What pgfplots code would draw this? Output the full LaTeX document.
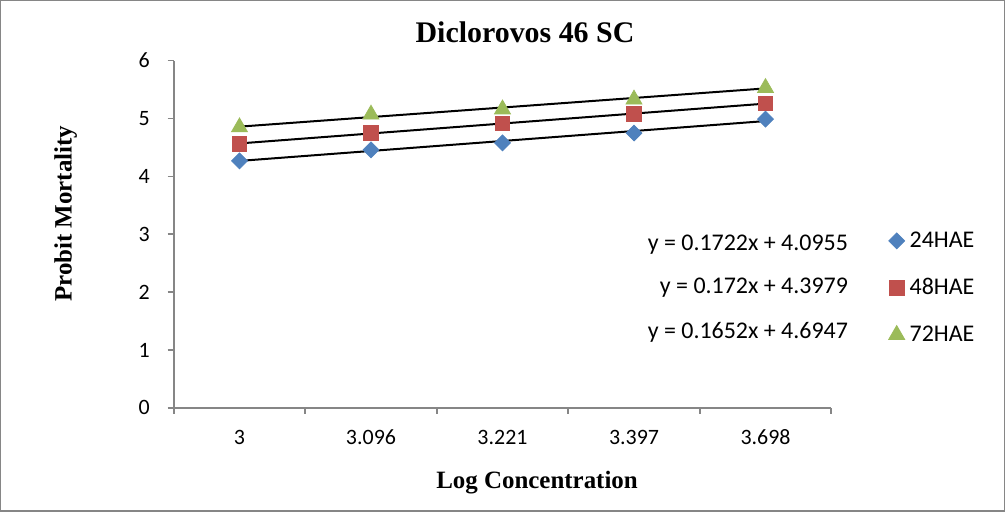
\documentclass[border=0pt]{standalone}
\usepackage{pgfplots}
\pgfplotsset{compat=1.18}
\usepackage{fontspec}
\setmainfont{Carlito}
\newfontfamily\timesfont{Liberation Serif}
\definecolor{s1}{HTML}{4F81BD}
\definecolor{s2}{HTML}{C0504D}
\definecolor{s3}{HTML}{9BBB59}
\definecolor{axgray}{HTML}{868686}
\begin{document}
\begin{tikzpicture}
\draw[axgray, line width=0.6bp] (0.5bp,0.5bp) rectangle (502bp,255.5bp);
\begin{axis}[
  at={(87bp,52bp)}, anchor=south west,
  scale only axis, width=328.5bp, height=173.5bp,
  xmin=0.5, xmax=5.5, ymin=0, ymax=6,
  axis lines*=left,
  axis line style={axgray, line width=0.8bp, -},
  xtick={0.5,1.5,...,5.5}, xticklabels={},
  extra x ticks={1,2,3,4,5},
  extra x tick labels={3,3.096,3.221,3.397,3.698},
  extra x tick style={major tick length=0pt},
  ytick={0,1,...,6},
  tick align=outside, major tick length=3bp,
  tick style={axgray, line width=0.8bp},
  /pgf/number format/assume math mode=true,
  ticklabel style={font=\fontsize{11}{13}\selectfont, text=black},
  xticklabel style={yshift=-7.5bp},
  yticklabel style={xshift=-5.5bp},
  clip=false,
  legend style={draw=none, fill=none, inner sep=0pt, at={(1.0868,0.3458)}, anchor=west,
    font=\fontsize{12}{14}\selectfont, row sep=9bp, nodes={inner sep=2.5bp}},
  legend cell align=left,
  legend image code/.code={\draw[mark repeat=2,mark phase=2,#1] plot coordinates {(0bp,0bp)(4bp,0bp)(8bp,0bp)};},
]
\addplot[only marks, mark=square*, mark size=2.8bp, mark options={rotate=45, fill=s1, draw=s1}]
  coordinates {(1,4.27)(2,4.46)(3,4.58)(4,4.75)(5,4.99)};
\addlegendentry{24HAE}
\addplot[only marks, mark=square*, mark size=3.6bp, mark options={fill=s2, draw=s2}]
  coordinates {(1,4.56)(2,4.75)(3,4.92)(4,5.08)(5,5.26)};
\addlegendentry{48HAE}
\addplot[only marks, mark=triangle*, mark size=4.6bp, mark options={fill=s3, draw=s3}]
  coordinates {(1,4.85)(2,5.07)(3,5.16)(4,5.33)(5,5.53)};
\addlegendentry{72HAE}
\addplot[black, line width=1bp, forget plot] coordinates {(1,4.2677)(5,4.9565)};
\addplot[black, line width=1bp, forget plot] coordinates {(1,4.5699)(5,5.2579)};
\addplot[black, line width=1bp, forget plot] coordinates {(1,4.8599)(5,5.5207)};
\end{axis}
\node[anchor=east, font=\fontsize{12}{14}\selectfont, inner sep=0pt] at (424bp,133.5bp) {y = 0.1722x + 4.0955};
\node[anchor=east, font=\fontsize{12}{14}\selectfont, inner sep=0pt] at (424bp,112bp) {y = 0.172x + 4.3979};
\node[anchor=east, font=\fontsize{12}{14}\selectfont, inner sep=0pt] at (424bp,90bp) {y = 0.1652x + 4.6947};
\node[font=\timesfont\bfseries\fontsize{15}{18}\selectfont, inner sep=0pt] at (262.5bp,239.5bp) {Diclorovos 46 SC};
\node[font=\timesfont\bfseries\fontsize{12.5}{15}\selectfont, inner sep=0pt, rotate=90] at (33bp,149bp) {Probit Mortality};
\node[font=\timesfont\bfseries\fontsize{12.5}{15}\selectfont, inner sep=0pt] at (268.5bp,14.5bp) {Log Concentration};
\end{tikzpicture}
\end{document}
